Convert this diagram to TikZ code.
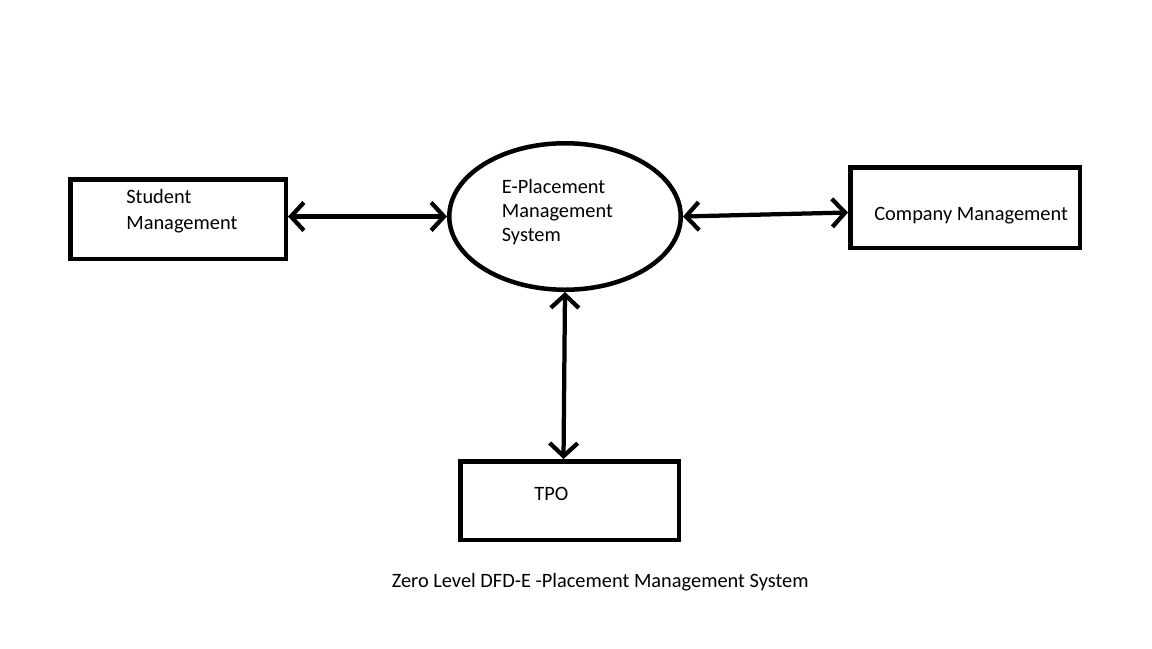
\documentclass[tikz,border=0pt]{standalone}
\usepackage{fontspec}
\setmainfont{Carlito}
\usetikzlibrary{shapes.geometric, arrows, arrows.meta}
\tikzstyle{entity} = [rectangle, draw=black, line width=0.09cm]
\tikzstyle{process} = [ellipse, draw=black, line width=0.09cm,
minimum width=4.63cm,
minimum height=2.93cm]
\tikzstyle{txt} = [inner sep=0pt, align=left, anchor=base west,
font=\fontsize{11.6}{13.8}\selectfont]
\tikzstyle{arrow} = [line width=0.085cm, <->, >={Straight Barb[length=0.26cm, width=0.56cm]}]

\begin{document}
\begin{tikzpicture}
        \useasboundingbox [fill=white] (0,0) rectangle (23.04,-12.96);
        \node (epms) [process] at (11.30,-4.33) {};
        \node (stu) [entity, minimum width=4.31cm, minimum height=1.59cm] at (3.56,-4.38) {};
        \node (comp) [entity, minimum width=4.59cm, minimum height=1.61cm] at (19.30,-4.15) {};
        \node (tpo) [entity, minimum width=4.37cm, minimum height=1.57cm] at (11.39,-10.01) {};
        \node (epms-t) [txt] at (10.03,-4.83) {E-Placement\\Management\\System};
        \node (stu-t) [txt, font=\fontsize{11.6}{14.6}\selectfont] at (2.52,-4.58) {Student\\Management};
        \node (comp-t) [txt] at (17.48,-4.41) {Company Management};
        \node (tpo-t) [txt] at (10.68,-10.01) {TPO};
        \node (title) [txt] at (7.83,-11.75) {Zero Level DFD-E -Placement Management System};
        \draw [arrow] (stu.east |- epms.west) -- (epms.west);
        \draw [arrow] (epms.east) -- ([yshift=-0.1cm]comp.west);
        \draw [arrow] (epms.south) -- ([xshift=-0.12cm]tpo.north);
    \end{tikzpicture}
\end{document}
